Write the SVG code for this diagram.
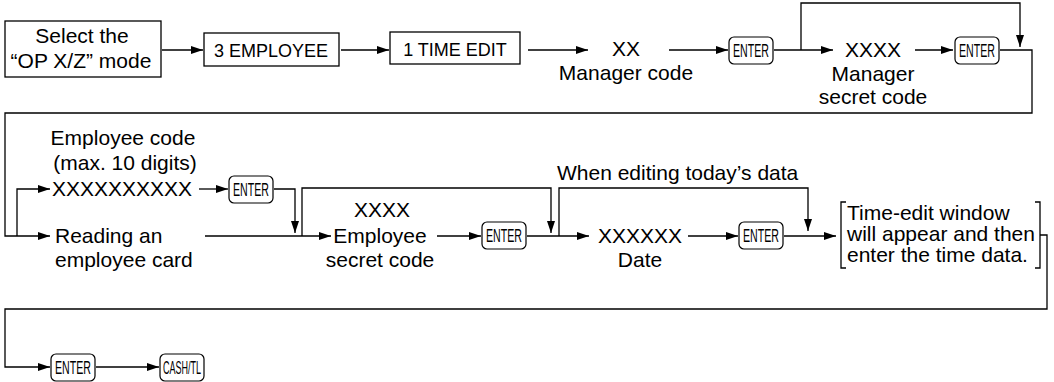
<svg xmlns="http://www.w3.org/2000/svg" width="1054" height="382" viewBox="0 0 1054 382">
<defs>
<marker id="ah" viewBox="0 0 12 8" refX="12" refY="4" markerWidth="12" markerHeight="8" markerUnits="userSpaceOnUse" orient="auto">
<path d="M0,0 L12,4 L0,8 z" fill="#000"/>
</marker>
</defs>
<style>
text{font-family:"Liberation Sans",Arial,sans-serif;font-size:21px;fill:#000}
.m{text-anchor:middle}
.bx{font-size:18px}
.box{fill:#fff;stroke:#000;stroke-width:1.3}
.key{fill:#fff;stroke:#000;stroke-width:1.2}
.kt{font-size:18px;text-anchor:middle}
.c{fill:none;stroke:#000;stroke-width:1.3}
.a{marker-end:url(#ah)}
</style>
<rect width="1054" height="382" fill="#fff"/>
<g id="connectors">
<path class="c a" d="M162,50 H203"/>
<path class="c a" d="M341,50 H389"/>
<path class="c a" d="M528,50 H588"/>
<path class="c a" d="M669,50 H728"/>
<path class="c a" d="M774,50 H833"/>
<path class="c a" d="M801,50 V3 H1020 V47"/>
<path class="c a" d="M915,50 H953"/>
<path class="c a" d="M1000,50 H1032 V113 H5 V236 H50"/>
<path class="c a" d="M17,236 V189 H50"/>
<path class="c a" d="M199,189 H228"/>
<path class="c a" d="M274,189 H295 V233"/>
<path class="c a" d="M205,236 H331"/>
<path class="c a" d="M302,236 V188 H551 V233"/>
<path class="c a" d="M437,236 H481"/>
<path class="c a" d="M527,236 H589"/>
<path class="c a" d="M559,236 V188 H808 V231"/>
<path class="c a" d="M688,236 H738"/>
<path class="c a" d="M784,236 H836"/>
<path class="c a" d="M1040,235 H1047 V309 H5 V367 H50"/>
<path class="c a" d="M96,367 H159"/>
</g>
<g id="n-select"><rect class="box" x="5" y="21" width="156" height="56"/><text class="m" x="82" y="43">Select the</text><text class="m" x="81" y="68">“OP X/Z” mode</text></g>
<g id="n-employee"><rect class="box" x="204" y="33" width="135" height="33"/><text class="m bx" x="271" y="57">3 EMPLOYEE</text></g>
<g id="n-timeedit"><rect class="box" x="390" y="32" width="130" height="32"/><text class="m bx" x="455" y="56">1 TIME EDIT</text></g>
<g id="n-mgrcode"><text class="m" x="626" y="56">XX</text><text class="m" x="626" y="80">Manager code</text></g>
<g id="n-enter1"><rect class="key" x="729" y="37" width="44" height="27" rx="5"/><text class="kt" x="751" y="57" textLength="36" lengthAdjust="spacingAndGlyphs">ENTER</text></g>
<g id="n-mgrsecret"><text class="m" x="873" y="57">XXXX</text><text class="m" x="873" y="81">Manager</text><text class="m" x="873" y="104">secret code</text></g>
<g id="n-enter2"><rect class="key" x="955" y="37" width="44" height="27" rx="5"/><text class="kt" x="977" y="57" textLength="36" lengthAdjust="spacingAndGlyphs">ENTER</text></g>
<g id="n-empcode"><text class="m" x="123" y="145">Employee code</text><text class="m" x="125" y="170">(max. 10 digits)</text><text class="m" x="122" y="196">XXXXXXXXXX</text></g>
<g id="n-enter3"><rect class="key" x="229" y="176" width="44" height="27" rx="5"/><text class="kt" x="251" y="196" textLength="36" lengthAdjust="spacingAndGlyphs">ENTER</text></g>
<g id="n-card"><text x="55" y="243">Reading an</text><text x="55" y="267">employee card</text></g>
<g id="n-empsecret"><text class="m" x="382" y="217">XXXX</text><text class="m" x="380" y="243">Employee</text><text class="m" x="380" y="267">secret code</text></g>
<g id="n-enter4"><rect class="key" x="482" y="222" width="44" height="27" rx="5"/><text class="kt" x="504" y="242" textLength="36" lengthAdjust="spacingAndGlyphs">ENTER</text></g>
<g id="n-today"><text x="557" y="180">When editing today’s data</text></g>
<g id="n-date"><text class="m" x="640" y="243">XXXXXX</text><text class="m" x="640" y="267">Date</text></g>
<g id="n-enter5"><rect class="key" x="739" y="222" width="44" height="27" rx="5"/><text class="kt" x="761" y="242" textLength="36" lengthAdjust="spacingAndGlyphs">ENTER</text></g>
<g id="n-window"><path class="c" d="M846,202 H841 V268 H846 M1035,202 H1040 V268 H1035"/><text x="847" y="220">Time-edit window</text><text x="847" y="241">will appear and then</text><text x="847" y="262">enter the time data.</text></g>
<g id="n-enter6"><rect class="key" x="51" y="354" width="44" height="27" rx="5"/><text class="kt" x="73" y="374" textLength="36" lengthAdjust="spacingAndGlyphs">ENTER</text></g>
<g id="n-cashtl"><rect class="key" x="160" y="354" width="44" height="27" rx="5"/><text class="kt" x="182" y="374" textLength="38" lengthAdjust="spacingAndGlyphs">CASH/TL</text></g>
</svg>
